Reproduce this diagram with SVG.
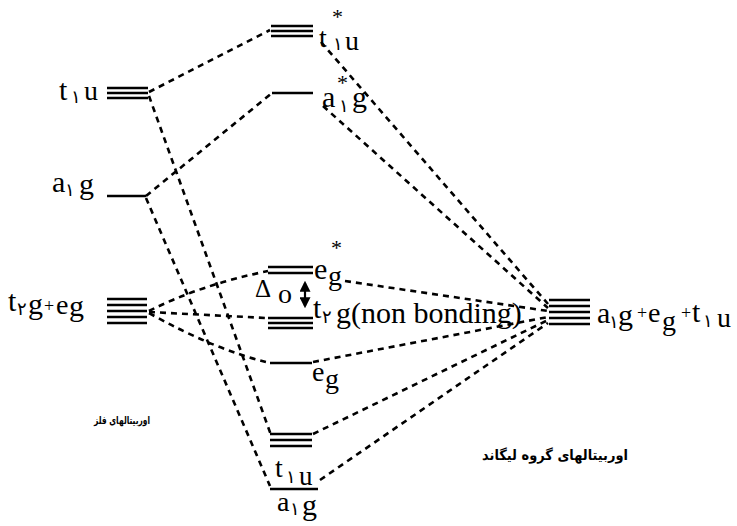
<svg xmlns="http://www.w3.org/2000/svg" width="737" height="526" viewBox="0 0 737 526">
<defs>
<style>
.lv{stroke:#000;stroke-width:2.4;fill:none}
.dl{stroke:#000;stroke-width:2.6;fill:none;stroke-dasharray:6 5}
text{font-family:"Liberation Serif","DejaVu Serif",serif;fill:#000;font-size:30px}
.sb{font-family:"DejaVu Sans",sans-serif;font-size:18px}
.sp{font-size:18px}
.st{font-size:22px}
.fa{font-family:"DejaVu Sans",sans-serif;font-weight:bold;direction:rtl;text-anchor:middle}
</style>
<marker id="ah" viewBox="0 0 10 10" refX="8" refY="5" markerWidth="5" markerHeight="5" orient="auto-start-reverse">
<path d="M0,0 L10,5 L0,10 z" fill="#000"/>
</marker>
</defs>
<rect width="737" height="526" fill="#fff"/>

<g id="connectors">
<path class="dl" d="M149,92 L270,30"/>
<path class="dl" d="M149,96 L271,435"/>
<path class="dl" d="M146,196 L272,93"/>
<path class="dl" d="M146,198 L270,486"/>
<path class="dl" d="M149,311 Q200,285 268,271"/>
<path class="dl" d="M149,312 L266,318"/>
<path class="dl" d="M149,313 Q215,350 270,363"/>
<path class="dl" d="M321,42 L548,304"/>
<path class="dl" d="M323,106 L548,308"/>
<path class="dl" d="M345,281 L548,311"/>
<path class="dl" d="M313,362 L548,317"/>
<path class="dl" d="M313,434 L548,320"/>
<path class="dl" d="M320,480 L548,323"/>
</g>

<g id="metal-t1u">
<path class="lv" d="M107,88H148M107,93H148M107,98H148"/>
<text x="59" y="100">t</text><text class="sb" x="71" y="103">۱</text><text x="84" y="100" style="font-size:28px">u</text>
</g>
<g id="metal-a1g">
<path class="lv" d="M107,196H146"/>
<text x="52" y="192">a</text><text class="sb" x="65" y="196">۱</text><text x="79" y="194">g</text>
</g>
<g id="metal-t2g-eg">
<path class="lv" d="M107,299H147M107,305H147M107,311H147M107,317H147M107,323H147"/>
<text x="8" y="311">t</text><text class="sb" x="17" y="315">۲</text><text x="28" y="314">g</text><text class="sp" x="44" y="312">+</text><text x="56" y="314" style="font-size:28px">e</text><text x="69" y="316">g</text>
</g>

<g id="mo-t1u-star">
<path class="lv" d="M271,26H313M271,31H313M271,36H313"/>
<text x="319" y="47" style="font-size:28px">t</text><text class="st" x="332" y="24">*</text><text class="sb" x="333" y="50">۱</text><text x="345" y="50" style="font-size:28px">u</text>
</g>
<g id="mo-a1g-star">
<path class="lv" d="M272,93H313"/>
<text x="322" y="107">a</text><text class="st" x="337" y="90">*</text><text class="sb" x="339" y="112">۱</text><text x="352" y="107">g</text>
</g>
<g id="mo-eg-star">
<path class="lv" d="M268,267H313M268,273H313"/>
<text x="314" y="279">e</text><text x="328" y="285" style="font-size:28px">g</text><text class="st" x="331" y="255">*</text>
</g>
<g id="delta-o">
<text x="255" y="297" style="font-size:25px">Δ</text><text x="278" y="303" style="font-size:28px">o</text>
<path d="M305,283V306" stroke="#000" stroke-width="2.2" marker-start="url(#ah)" marker-end="url(#ah)"/>
</g>
<g id="mo-t2g-nb">
<path class="lv" d="M268,318H313M268,323H313M268,328H313"/>
<text x="313" y="318">t</text><text class="sb" x="322" y="323">۲</text><text x="336" y="323">g(non bonding)</text>
</g>
<g id="mo-eg">
<path class="lv" d="M270,363H312"/>
<text x="312" y="381" style="font-size:28px">e</text><text x="325" y="388" style="font-size:28px">g</text>
</g>
<g id="mo-t1u">
<path class="lv" d="M270,434H312M270,440H312M270,446H312"/>
<text x="275" y="477" style="font-size:28px">t</text><text class="sb" x="286" y="483">۱</text><text x="299" y="485" style="font-size:27px">u</text>
</g>
<g id="mo-a1g">
<path class="lv" d="M270,489H318"/>
<text x="277" y="511" style="font-size:28px">a</text><text class="sb" x="290" y="515">۱</text><text x="302" y="515">g</text>
</g>

<g id="ligand">
<path class="lv" d="M549,300H590M549,306H590M549,312H590M549,318H590M549,324H590"/>
<text x="597" y="323">a</text><text class="sb" x="609" y="328">۱</text><text x="618" y="325">g</text><text class="sp" x="637" y="319">+</text><text x="648" y="322" style="font-size:28px">e</text><text x="662" y="330" style="font-size:28px">g</text><text class="sp" x="681" y="319">+</text><text x="692" y="322">t</text><text class="sb" x="703" y="327">۱</text><text x="717" y="327" style="font-size:28px">u</text>
</g>

<g id="captions">
<text class="fa" x="122" y="424" style="font-size:11px" textLength="56" lengthAdjust="spacingAndGlyphs">اوربیتالهای فلز</text>
<text class="fa" x="555" y="460" style="font-size:14px" textLength="146" lengthAdjust="spacingAndGlyphs">اوربیتالهای گروه لیگاند</text>
</g>
</svg>
